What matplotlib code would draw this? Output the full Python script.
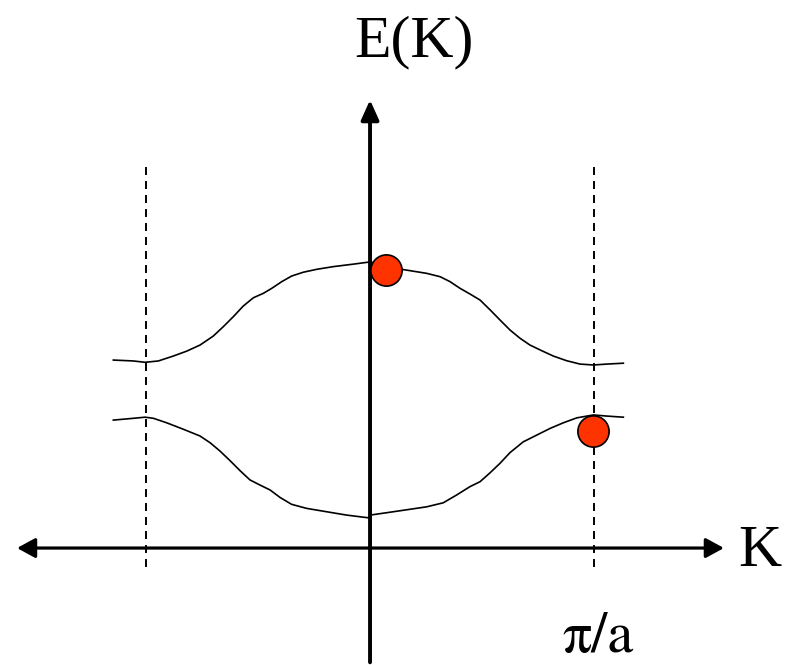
#!/usr/bin/env python3
"""Band structure sketch: two energy bands E(K) across the first Brillouin zone."""
import matplotlib
matplotlib.use('Agg')
import matplotlib.pyplot as plt

# K in units of pi/a, E in arbitrary units (same scale as K)
upper_k = [-1.146, -1.057, -1.004, -0.945, -0.878, -0.818, -0.759, -0.700, -0.655,
           -0.610, -0.566, -0.521, -0.476, -0.439, -0.394, -0.350, -0.298, -0.238,
           -0.164, -0.075, 0.0, 0.141, 0.253, 0.313, 0.357, 0.402, 0.446, 0.491,
           0.536, 0.580, 0.625, 0.670, 0.714, 0.766, 0.818, 0.878, 0.938, 0.997,
           1.057, 1.131]
upper_e = [0.839, 0.835, 0.829, 0.835, 0.857, 0.879, 0.906, 0.946, 0.988,
           1.033, 1.080, 1.117, 1.137, 1.159, 1.189, 1.214, 1.231, 1.244,
           1.256, 1.267, 1.277, 1.244, 1.226, 1.211, 1.189, 1.159, 1.134, 1.107,
           1.063, 1.018, 0.973, 0.936, 0.906, 0.881, 0.857, 0.836, 0.821, 0.817,
           0.821, 0.825]

lower_k = [-1.146, -1.057, -1.004, -0.967, -0.908, -0.833, -0.759, -0.714, -0.670,
           -0.625, -0.580, -0.536, -0.491, -0.446, -0.402, -0.350, -0.283, -0.194,
           -0.104, -0.008, 0.0, 0.104, 0.253, 0.327, 0.387, 0.446, 0.491, 0.536,
           0.580, 0.625, 0.684, 0.744, 0.804, 0.863, 0.923, 0.997, 1.057, 1.131]
lower_e = [0.571, 0.579, 0.584, 0.579, 0.559, 0.530, 0.500, 0.470, 0.433,
           0.390, 0.345, 0.304, 0.281, 0.259, 0.226, 0.195, 0.177, 0.162,
           0.147, 0.135, 0.147, 0.162, 0.184, 0.202, 0.237, 0.274, 0.296, 0.336,
           0.378, 0.426, 0.474, 0.504, 0.534, 0.559, 0.581, 0.594, 0.589, 0.584]

# electrons marked on the bands
dot_k = [0.071, 0.996]
dot_e = [1.239, 0.522]

zone_edges = [-1.0, 1.0]

fig = plt.figure(figsize=(7.88, 6.65), dpi=100)
ax = fig.add_axes([0, 0, 1, 1])
ax.set_xlim(-1.652, 1.866)
ax.set_ylim(-0.522, 2.446)
ax.axis('off')

SERIF = ['Liberation Serif', 'DejaVu Serif']

# zone boundaries
for k in zone_edges:
    ax.plot([k, k], [-0.085, 1.71], color='black', lw=1.4,
            linestyle=(0, (4.1, 3.1)), zorder=1)

# K axis (double arrow) and E axis
ax.annotate('', xy=(1.580, 0), xytext=(-1.576, 0),
            arrowprops=dict(arrowstyle='<|-|>,head_length=0.55,head_width=0.3',
                            mutation_scale=20, lw=2.3, color='black',
                            shrinkA=0, shrinkB=0), zorder=2)
ax.annotate('', xy=(0, 2.0), xytext=(0, -0.51),
            arrowprops=dict(arrowstyle='-|>,head_length=0.6,head_width=0.27',
                            mutation_scale=20, lw=2.8, color='black',
                            shrinkA=0, shrinkB=0), zorder=2)

# bands
ax.plot(upper_k, upper_e, color='black', lw=1.2, solid_joinstyle='round', zorder=3)
ax.plot(lower_k, lower_e, color='black', lw=1.2, solid_joinstyle='round', zorder=3)

ax.plot(dot_k, dot_e, 'o', markersize=22.5, markerfacecolor='#FF3300',
        markeredgecolor='black', markeredgewidth=1.2, linestyle='none', zorder=4)

ax.text(0.196, 2.259, 'E(K)', ha='center', va='center', fontsize=43, family=SERIF)
ax.text(1.741, -0.018, 'K', ha='center', va='center', fontsize=43, family=SERIF)
ax.text(1.018, -0.462, 'π/a', ha='center', va='baseline', fontsize=42,
        family=['STIXGeneral', 'DejaVu Serif'])

plt.savefig('out.png', dpi=100, facecolor='white')
